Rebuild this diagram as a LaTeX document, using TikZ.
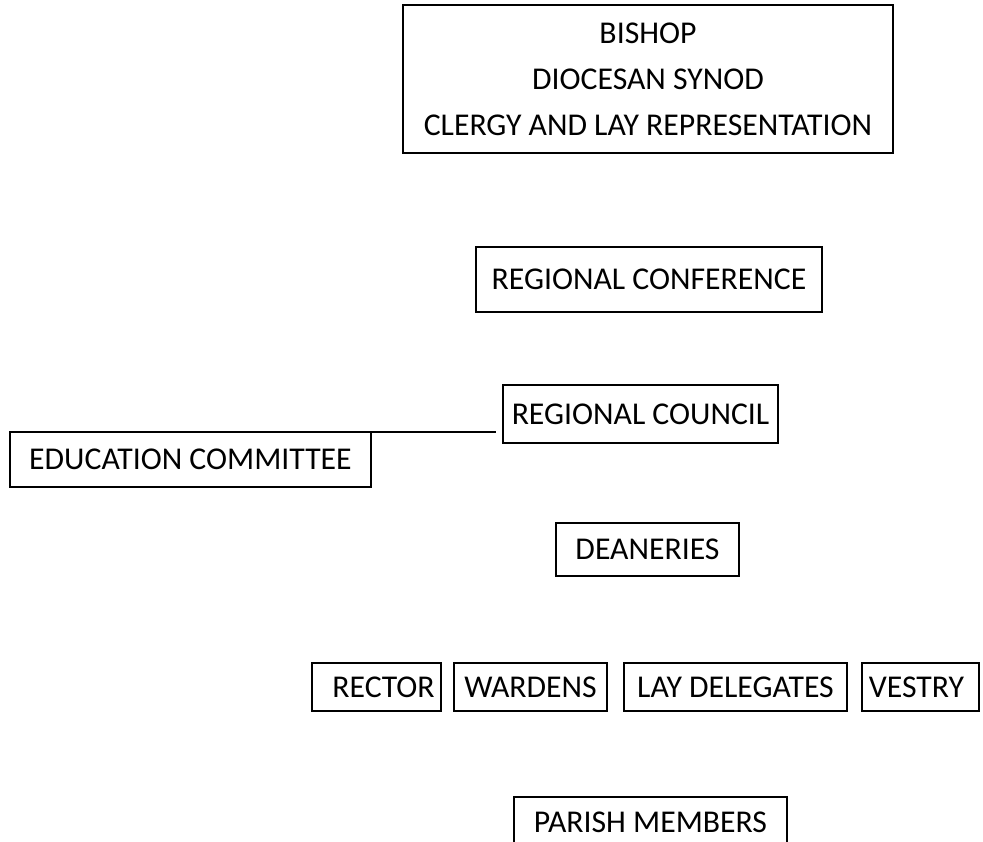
\documentclass[tikz,border=0pt]{standalone}
\usepackage{fontspec}
\setmainfont{Carlito}
\begin{document}
\begin{tikzpicture}[x=0.75pt, y=-0.75pt, orgbox/.style={draw=black, line width=1pt, inner sep=0pt, align=center, font=\fontsize{23.8}{34.5}\selectfont}]
\useasboundingbox (0,0) rectangle (983,842);
\clip (0,0) rectangle (983,842);
\node[orgbox, minimum width=367.5pt, minimum height=111pt] (synod) at (648,79) {BISHOP\\DIOCESAN SYNOD\\CLERGY AND LAY REPRESENTATION};
\node[orgbox, minimum width=259.5pt, minimum height=48.75pt] (conference) at (649,279.5) {REGIONAL CONFERENCE};
\node[orgbox, minimum width=206.25pt, minimum height=43.5pt] (council) at (640.5,414) {REGIONAL COUNCIL};
\node[orgbox, minimum width=270.75pt, minimum height=41.25pt] (education) at (190.5,459.5) {EDUCATION COMMITTEE};
\node[orgbox, minimum width=137.25pt, minimum height=39.75pt] (deaneries) at (647.5,549.5) {DEANERIES};
\node[orgbox, minimum width=96.75pt, minimum height=36pt] (rector) at (376.5,687) {\hspace{10.5pt}RECTOR};
\node[orgbox, minimum width=114.75pt, minimum height=36pt] (wardens) at (530.5,687) {WARDENS};
\node[orgbox, minimum width=167.25pt, minimum height=36pt] (delegates) at (735.5,687) {LAY DELEGATES};
\node[orgbox, minimum width=87.75pt, minimum height=36pt] (vestry) at (920.5,687) {VESTRY\hspace{6pt}};
\node[orgbox, minimum width=204.75pt, minimum height=37.5pt] (parish) at (650.5,822) {PARISH MEMBERS};
\draw[black, line width=1.4pt, shorten >=4.5pt] ([yshift=-0.3pt]education.north east) -- ([yshift=-0.3pt]education.north east -| council.west);
\end{tikzpicture}
\end{document}
